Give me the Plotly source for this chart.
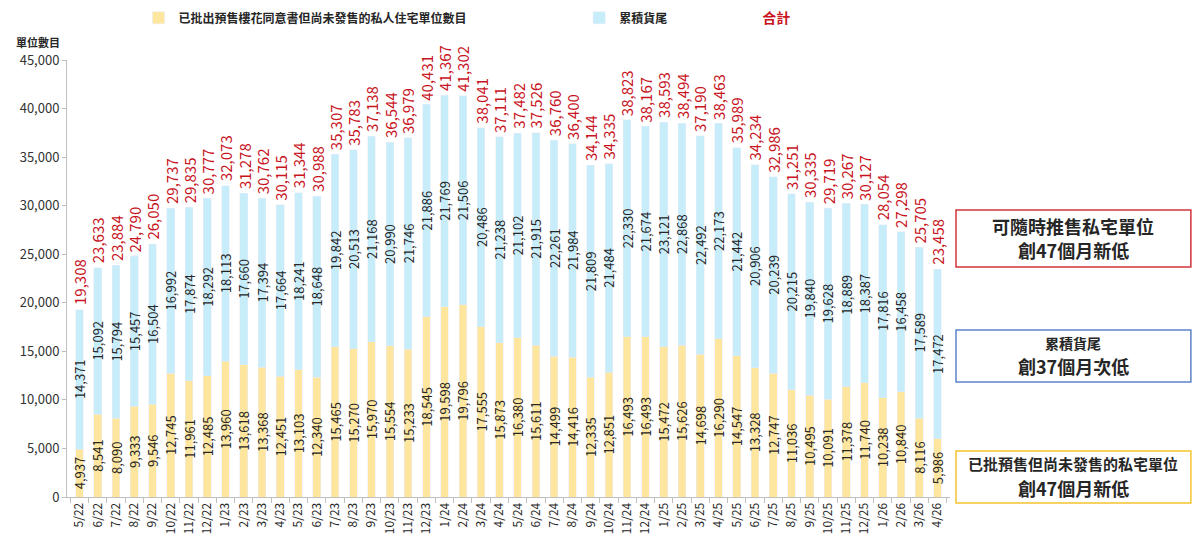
import plotly.graph_objects as go

months = ['5/22', '6/22', '7/22', '8/22', '9/22', '10/22', '11/22', '12/22',
          '1/23', '2/23', '3/23', '4/23', '5/23', '6/23', '7/23', '8/23', '9/23', '10/23', '11/23', '12/23',
          '1/24', '2/24', '3/24', '4/24', '5/24', '6/24', '7/24', '8/24', '9/24', '10/24', '11/24', '12/24',
          '1/25', '2/25', '3/25', '4/25', '5/25', '6/25', '7/25', '8/25', '9/25', '10/25', '11/25', '12/25',
          '1/26', '2/26', '3/26', '4/26']

# 已批出預售樓花同意書但尚未發售的私人住宅單位數目
presale = [4937, 8541, 8090, 9333, 9546, 12745, 11961, 12485,
           13960, 13618, 13368, 12451, 13103, 12340, 15465, 15270, 15970, 15554, 15233, 18545,
           19598, 19796, 17555, 15873, 16380, 15611, 14499, 14416, 12335, 12851, 16493, 16493,
           15472, 15626, 14698, 16290, 14547, 13328, 12747, 11036, 10495, 10091, 11378, 11740,
           10238, 10840, 8116, 5986]

# 累積貨尾
stock = [14371, 15092, 15794, 15457, 16504, 16992, 17874, 18292,
         18113, 17660, 17394, 17664, 18241, 18648, 19842, 20513, 21168, 20990, 21746, 21886,
         21769, 21506, 20486, 21238, 21102, 21915, 22261, 21984, 21809, 21484, 22330, 21674,
         23121, 22868, 22492, 22173, 21442, 20906, 20239, 20215, 19840, 19628, 18889, 18387,
         17816, 16458, 17589, 17472]

# 合計
totals = [19308, 23633, 23884, 24790, 26050, 29737, 29835, 30777,
          32073, 31278, 30762, 30115, 31344, 30988, 35307, 35783, 37138, 36544, 36979, 40431,
          41367, 41302, 38041, 37111, 37482, 37526, 36760, 36400, 34144, 34335, 38823, 38167,
          38593, 38494, 37190, 38463, 35989, 34234, 32986, 31251, 30335, 29719, 30267, 30127,
          28054, 27298, 25705, 23458]

# callout boxes on the right
box_lines1 = ["可隨時推售私宅單位", "累積貨尾", "已批預售但尚未發售的私宅單位"]
box_lines2 = ["創47個月新低", "創37個月次低", "創47個月新低"]

FONT = "Noto Sans CJK TC"
YELLOW = "#FFE69E"
BLUE = "#C7ECFA"
RED = "#C8141E"
DARK = "#262626"

fig = go.Figure()

fig.add_trace(go.Bar(
    x=months, y=presale, name="已批出預售樓花同意書但尚未發售的私人住宅單位數目",
    marker_color=YELLOW, text=[f"{v:,}" for v in presale],
    textposition="inside", insidetextanchor="middle", textangle=-90,
    constraintext="none", textfont=dict(size=13, color=DARK, family=FONT),
    legend="legend",
))
fig.add_trace(go.Bar(
    x=months, y=stock, name="累積貨尾",
    marker_color=BLUE, text=[f"{v:,}" for v in stock],
    textposition="inside", insidetextanchor="middle", textangle=-90,
    constraintext="none", textfont=dict(size=13, color=DARK, family=FONT),
    legend="legend2",
))
fig.add_trace(go.Scatter(
    x=[None], y=[None], mode="markers", marker=dict(color="rgba(0,0,0,0)", size=1),
    name=f"<span style='color:{RED}'>合計</span>", legend="legend3",
))

for m, t in zip(months, totals):
    fig.add_annotation(x=m, y=t, text=f"{t:,}", textangle=-90, showarrow=False,
                       yanchor="bottom", yshift=2,
                       font=dict(size=15, color=RED, family=FONT))

fig.add_annotation(xref="paper", yref="paper", x=-0.0327, y=1.041, xanchor="center", yanchor="middle",
                   text="單位數目", showarrow=False,
                   font=dict(size=11, color=DARK, family=FONT, weight="bold"))

# box layout in paper coords: border, line1 y, line2 y, line1 size
box_style = [
    dict(y0=0.5263, y1=0.6568, l1=0.6201, l2=0.5652, s1=18, col="#D2343A"),
    dict(y0=0.2632, y1=0.3822, l1=0.3524, l2=0.2998, s1=14, col="#5B84C8"),
    dict(y0=-0.0137, y1=0.1053, l1=0.0778, l2=0.0206, s1=15, col="#F5C431"),
]
for t1, t2, st in zip(box_lines1, box_lines2, box_style):
    fig.add_shape(type="rect", xref="paper", yref="paper", x0=1.0068, x1=1.2728,
                  y0=st["y0"], y1=st["y1"], line=dict(color=st["col"], width=1.5),
                  fillcolor="rgba(0,0,0,0)")
    fig.add_annotation(xref="paper", yref="paper", x=1.1398, y=st["l1"], xanchor="center",
                       yanchor="middle", text=t1, showarrow=False,
                       font=dict(size=st["s1"], color=DARK, family=FONT, weight="bold"))
    fig.add_annotation(xref="paper", yref="paper", x=1.1398, y=st["l2"], xanchor="center",
                       yanchor="middle", text=t2, showarrow=False,
                       font=dict(size=18, color=DARK, family=FONT, weight="bold"))

legend_style = dict(orientation="h", yanchor="middle", xanchor="left", yref="container", y=0.982,
                    bgcolor="rgba(0,0,0,0)", itemwidth=30,
                    font=dict(size=12, color=DARK, family=FONT, weight="bold"))

# the page puts the figure 8px in from the top-left corner, so margins are trimmed by 8px
fig.update_layout(
    width=1200, height=547,
    margin=dict(l=55, r=258, t=52, b=58),
    barmode="stack", bargap=0.58,
    plot_bgcolor="white", paper_bgcolor="white",
    font=dict(family=FONT, color=DARK),
    showlegend=True,
    legend=dict(legend_style, x=0.081),
    legend2=dict(legend_style, x=0.580),
    legend3=dict(legend_style, x=0.742, font=dict(size=14, family=FONT, weight="bold")),
    xaxis=dict(tickangle=-90, tickfont=dict(size=12, color=DARK), showline=True,
               linecolor="#BFBFBF", ticks="outside", tickson="boundaries", ticklen=5,
               tickcolor="#BFBFBF", showgrid=False),
    yaxis=dict(range=[0, 45000], dtick=5000, tickformat=",", showgrid=False,
               showline=True, linecolor="#BFBFBF", ticks="outside", ticklen=4,
               tickcolor="#BFBFBF", tickfont=dict(size=13, color="#333333"), zeroline=False),
)

fig.write_html("out.html")
